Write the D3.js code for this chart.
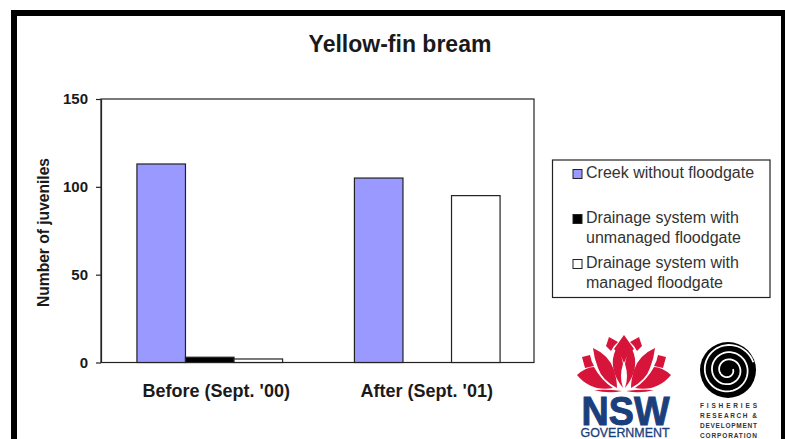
<!DOCTYPE html>
<html>
<head>
<meta charset="utf-8">
<script src="https://cdnjs.cloudflare.com/ajax/libs/d3/7.8.5/d3.min.js"></script>
<style>
  html, body { margin: 0; padding: 0; background: #fff; overflow: hidden; }
  text { font-family: "Liberation Sans", Arial, sans-serif; fill: #1a1a1a; }
  .axis text { font-size: 15px; font-weight: bold; }
</style>
</head>
<body>
<div id="chart"></div>
<script>
// data
const periods = ["Before (Sept. '00)", "After (Sept. '01)"];
const seriesNames = ["creek", "unmanaged", "managed"];
const creekValues = [113, 105];
const unmanagedValues = [3, 0];
const managedValues = [2, 95];
const yTicks = [0, 50, 100, 150];
const legendLabels = [
  ["Creek without floodgate"],
  ["Drainage system with", "unmanaged floodgate"],
  ["Drainage system with", "managed floodgate"],
];
const seriesColors = ["#9999ff", "#000000", "#ffffff"];
const seriesValues = [creekValues, unmanagedValues, managedValues];

const width = 785;
const height = 439;
const margin = { left: 101, top: 99, right: 251, bottom: 76.5 };
const ink = "#222";

const svg = d3
  .select("#chart")
  .append("svg")
  .attr("width", width)
  .attr("height", height)
  .style("display", "block");

// *Black frame, runs off the bottom and right of the picture
svg
  .append("rect")
  .attr("x", 14)
  .attr("y", 13)
  .attr("width", 770)
  .attr("height", 440)
  .attr("fill", "#fff")
  .attr("stroke", "#000")
  .attr("stroke-width", 6);

svg
  .append("text")
  .attr("x", 400)
  .attr("y", 52)
  .attr("text-anchor", "middle")
  .style("font-size", "23px")
  .style("font-weight", "bold")
  .text("Yellow-fin bream");

// *Scales
const x0 = d3
  .scaleBand()
  .domain(periods)
  .range([margin.left, margin.left + 435]);
const x1 = d3
  .scaleBand()
  .domain(seriesNames)
  .range([0, x0.bandwidth()])
  .paddingInner(0)
  .paddingOuter(0.74);
const y = d3
  .scaleLinear()
  .domain([0, 150])
  .range([height - margin.bottom, margin.top]);

// *Plot box
svg
  .append("rect")
  .attr("x", margin.left)
  .attr("y", margin.top)
  .attr("width", width - margin.left - margin.right)
  .attr("height", height - margin.top - margin.bottom)
  .attr("fill", "#fff")
  .attr("stroke", ink)
  .attr("stroke-width", 1.2);

// *Bars
seriesNames.forEach((name, i) => {
  svg
    .append("g")
    .selectAll("rect")
    .data(seriesValues[i].map((v, j) => ({ period: periods[j], value: v })))
    .join("rect")
    .filter((d) => d.value > 0)
    .attr("x", (d) => x0(d.period) + x1(name))
    .attr("y", (d) => y(d.value))
    .attr("width", x1.bandwidth())
    .attr("height", (d) => y(0) - y(d.value))
    .attr("fill", seriesColors[i])
    .attr("stroke", ink)
    .attr("stroke-width", 1.2);
});

// *Axes
const yAxis = svg
  .append("g")
  .attr("class", "axis")
  .attr("transform", "translate(" + margin.left + ",0)")
  .call(d3.axisLeft(y).tickValues(yTicks).tickSize(5).tickSizeOuter(0).tickPadding(8));
yAxis.select(".domain").attr("stroke", ink).attr("stroke-width", 1.2);
yAxis.selectAll("line").attr("stroke", ink).attr("stroke-width", 1.2);

// labels do not sit quite centred under the bars in the original
const labelNudge = [6.5, -0.5];
svg
  .selectAll(".periodLabel")
  .data(periods)
  .join("text")
  .attr("class", "periodLabel")
  .attr("x", (d, i) => x0(d) + x0.bandwidth() / 2 + labelNudge[i])
  .attr("y", 397)
  .attr("text-anchor", "middle")
  .style("font-size", "18px")
  .style("font-weight", "bold")
  .text((d) => d);

svg
  .append("text")
  .attr("transform", "translate(49,232.5) rotate(-90)")
  .attr("text-anchor", "middle")
  .style("font-size", "15.6px")
  .style("font-weight", "bold")
  .text("Number of juveniles");

// *Legend
svg
  .append("rect")
  .attr("x", 552.5)
  .attr("y", 160)
  .attr("width", 217.5)
  .attr("height", 137.5)
  .attr("fill", "#fff")
  .attr("stroke", ink)
  .attr("stroke-width", 1.2);

const legendBaselines = [178, 223, 268];
legendLabels.forEach((lines, i) => {
  svg
    .append("rect")
    .attr("x", 573)
    .attr("y", legendBaselines[i] - 8.5)
    .attr("width", 9)
    .attr("height", 9)
    .attr("fill", seriesColors[i])
    .attr("stroke", ink)
    .attr("stroke-width", 1);
  lines.forEach((line, k) => {
    svg
      .append("text")
      .attr("x", 586)
      .attr("y", legendBaselines[i] + k * 20)
      .style("font-size", "16px")
      .style("fill", "#333")
      .text(line);
  });
});

// *NSW Government logo, left half of the waratah is mirrored
const red = "#d7153a";
const navy = "#1b3f7c";
const flower = svg.append("g");
const leftPetals = [
  "M609 337 L618 342 Q613 346 611 351 L606 346 Z",
  "M582 357 L590 355 Q591 361 594 366 L585 368 Z",
  "M577 375 Q586 367 594 367 Q601 380 613 388 Q591 392 577 375 Z",
  "M593 348 Q609 355 614 370 Q617 380 617 388 Q602 380 598 368 Q594 358 593 348 Z",
  "M623 388 Q607 368 616 349 Q622 355 623 364 Q619 376 623 388 Z",
  "M594 390 Q608 389 622 391 Q608 394 594 390 Z",
];
leftPetals.forEach((d) => {
  flower.append("path").attr("d", d).attr("fill", red);
  flower
    .append("path")
    .attr("d", d)
    .attr("fill", red)
    .attr("transform", "translate(1248,0) scale(-1,1)");
});
flower
  .append("path")
  .attr("d", "M624 335 L634 349 Q627 355 624 363 Q621 355 614 349 Z")
  .attr("fill", red);

svg
  .append("text")
  .attr("x", 625.5)
  .attr("y", 425)
  .attr("text-anchor", "middle")
  .attr("textLength", 88)
  .attr("lengthAdjust", "spacingAndGlyphs")
  .style("font-size", "40px")
  .style("font-weight", "bold")
  .style("fill", navy)
  .style("stroke", navy)
  .style("stroke-width", 1)
  .text("NSW");

svg
  .append("text")
  .attr("x", 625)
  .attr("y", 436.5)
  .attr("text-anchor", "middle")
  .attr("textLength", 89)
  .attr("lengthAdjust", "spacingAndGlyphs")
  .style("font-size", "12px")
  .style("fill", navy)
  .style("stroke", navy)
  .style("stroke-width", 0.3)
  .text("GOVERNMENT");

// *FRDC logo, a black disc with a white spiral cut through it
const frdc = svg.append("g").attr("transform", "translate(728,370)");
frdc.append("circle").attr("r", 28).attr("fill", "#000");
const spiralTurns = d3.range(0, 3.0, 0.02);
frdc
  .append("path")
  .attr(
    "d",
    d3.lineRadial()
      .angle((t) => t * 2 * Math.PI + 1.4)
      .radius((t) => 5 + t * 7.2)(spiralTurns)
  )
  .attr("fill", "none")
  .attr("stroke", "#fff")
  .attr("stroke-width", 1.8);

const frdcLines = ["FISHERIES", "RESEARCH &", "DEVELOPMENT", "CORPORATION"];
frdcLines.forEach((line, i) => {
  svg
    .append("text")
    .attr("x", 728.5)
    .attr("y", 408 + i * 10)
    .attr("text-anchor", "middle")
    .attr("textLength", 57)
    .attr("lengthAdjust", "spacing")
    .style("font-size", "6.5px")
    .style("font-weight", "bold")
    .style("fill", "#333")
    .text(line);
});
</script>
</body>
</html>
